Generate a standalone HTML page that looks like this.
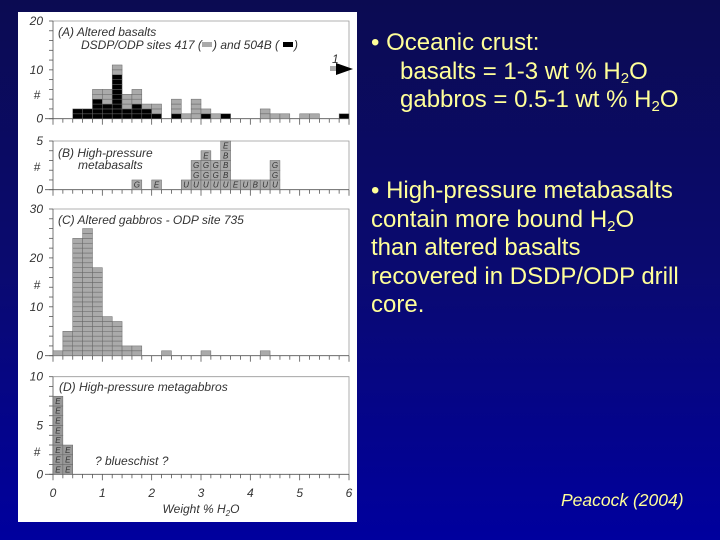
<!DOCTYPE html>
<html><head><meta charset="utf-8"><style>
html,body{margin:0;padding:0}
body{width:720px;height:540px;overflow:hidden;background:linear-gradient(180deg,#0b0b52 0%,#0a0a70 50%,#00009e 100%);position:relative;font-family:"Liberation Sans",sans-serif}
.t{position:absolute;color:#ffff99;font-size:24px;line-height:28.5px;white-space:nowrap}
sub{font-size:15px;vertical-align:-4px;line-height:0}
</style></head><body>
<svg id="fig" width="720" height="540" style="position:absolute;left:0;top:0" font-family="Liberation Sans, sans-serif">
<rect x="18" y="12" width="339" height="510" fill="#fff"/>
</svg>
<div class="t" style="left:371px;top:29px">• Oceanic crust:<br><span style="margin-left:29px">basalts = 1-3 wt % H<sub>2</sub>O</span><br><span style="margin-left:29px">gabbros = 0.5-1 wt % H<sub>2</sub>O</span></div>
<div class="t" style="left:371px;top:177px">• High-pressure metabasalts<br>contain more bound H<sub>2</sub>O<br>than altered basalts<br>recovered in DSDP/ODP drill<br>core.</div>
<div class="t" style="left:561px;top:486px;font-size:17.5px;font-style:italic">Peacock (2004)</div>
<script>
const aBlack=[0,0,2,2,4,3,9,2,3,2,1,0,1,0,0,1,0,1,0,0,0,0,0,0,0,0,0,0,0,1];
const aGray=[0,0,0,0,2,3,2,3,3,1,2,0,3,1,4,1,1,0,0,0,0,2,1,1,0,1,1,0,0,0];
const bLetters=["","","","","","","","","G","","E","","","U","UGG","UGGE","UGG","UBBBE","E","U","B","U","UGG","","","","","","",""];
const cCounts=[1,5,24,26,18,8,7,2,2,0,0,1,0,0,0,1,0,0,0,0,0,1,0,0,0,0,0,0,0,0];
const dLetters=["EEEEEEEE","EEE"];
const xTicks=[0,1,2,3,4,5,6];
const svg=document.getElementById('fig');
const NS='http://www.w3.org/2000/svg';
const X0=53,X1=349,BW=0.2;
const xs=v=>X0+(X1-X0)*v/6;
function mk(tag,at,parent){const e=document.createElementNS(NS,tag);for(const k in at)e.setAttribute(k,at[k]);(parent||svg).appendChild(e);return e;}
const panels=[
 {name:'a',top:21,zero:118.7,max:20,labels:[0,10,20],minor:2,hy:99},
 {name:'b',top:141,zero:189.7,max:5,labels:[0,5],minor:1,hy:171},
 {name:'c',top:209,zero:355.7,max:30,labels:[0,10,20,30],minor:2,hy:289},
 {name:'d',top:376.7,zero:474.3,max:10,labels:[0,5,10],minor:1,hy:456}];
panels.forEach(p=>{
 const ys=v=>p.zero-(p.zero-p.top)*v/p.max;p.ys=ys;
 let e=mk('path',{d:`M${X0} ${p.top}H${X1}V${p.zero}`,fill:'none',stroke:'#999','stroke-width':0.8});
 
 e=mk('line',{x1:X0,x2:X0,y1:p.top,y2:p.zero,stroke:'#555','stroke-width':0.8});
 
 e=mk('line',{x1:X0-8,x2:X1,y1:p.zero,y2:p.zero,stroke:'#555','stroke-width':0.8});
 
 for(let v=0;v<=p.max;v+=p.minor){const t=mk('line',{x1:X0-4,x2:X0,y1:ys(v),y2:ys(v),stroke:'#555','stroke-width':0.8});}
 p.labels.forEach(v=>{const t=mk('text',{x:X0-10,y:ys(v)+4,'text-anchor':'end','font-size':12,'font-style':'italic',fill:'#333'});t.textContent=v;});
 const h=mk('text',{x:37,y:p.hy,'text-anchor':'middle','font-size':12,'font-style':'italic',fill:'#333'});h.textContent='#';
 
 for(let i=0;i<=30;i++){const t=mk('line',{x1:xs(i*BW),x2:xs(i*BW),y1:p.zero,y2:p.zero+(i%5==0?6:4),stroke:'#555','stroke-width':0.8});}
});
function cell(p,i,k,fill,letter,nm){
 const x=xs(i*BW),w=xs(BW)-X0,y=p.ys(k+1),hh=p.ys(k)-p.ys(k+1);
 const r=mk('rect',{x:x,y:y,width:w,height:hh,fill:fill,stroke:'#666','stroke-width':0.5});
 
 if(letter){const t=mk('text',{x:x+w/2,y:y+hh-2,'text-anchor':'middle','font-size':Math.min(hh-1,8),'font-style':'italic',fill:'#333'});t.textContent=letter;}
}
const [A,B,C,D]=panels;
aBlack.forEach((n,i)=>{for(let k=0;k<n;k++)cell(A,i,k,'#000','','bar-504b');for(let k=0;k<aGray[i];k++)cell(A,i,n+k,'#aaa','','bar-417');});
bLetters.forEach((s,i)=>{[...s].forEach((c,k)=>cell(B,i,k,'#aaa',c,'bar-metabasalt'));});
cCounts.forEach((n,i)=>{for(let k=0;k<n;k++)cell(C,i,k,'#aaa','','bar-gabbro');});
dLetters.forEach((s,i)=>{[...s].forEach((c,k)=>cell(D,i,k,'#999',c,'bar-metagabbro'));});
function txt(x,y,s,sz,nm,anchor){const t=mk('text',{x:x,y:y,'font-size':sz,'font-style':'italic',fill:'#333','text-anchor':anchor||'start'});t.textContent=s;return t;}
txt(58,36,'(A) Altered basalts',12,'panel-a-title');
txt(81,49,'DSDP/ODP sites 417 (',12,'panel-a-subtitle');
txt(213,49,') and 504B (',12,'panel-a-subtitle-2');
txt(294,49,')',12,'panel-a-subtitle-3');
let e=mk('rect',{x:202,y:42,width:10,height:5,fill:'#aaa'});
e=mk('rect',{x:283,y:42,width:10,height:5,fill:'#000'});
e=mk('rect',{x:330,y:66,width:10,height:5,fill:'#aaa'});
e=mk('path',{d:'M336 63L353 69L336 75Z',fill:'#000'});
txt(332,63,'1',12,'overflow-count');
txt(58,157,'(B) High-pressure',12,'panel-b-title');
txt(78,169,'metabasalts',12,'panel-b-subtitle');
txt(58,224,'(C) Altered gabbros - ODP site 735',12,'panel-c-title');
txt(59,391,'(D) High-pressure metagabbros',12,'panel-d-title');
txt(95,465,'? blueschist ?',12,'blueschist-note');
xTicks.forEach(v=>txt(xs(v),497,v,12,'x-tick-label','middle'));
const xt=txt(xs(3),513,'Weight % H',12,'x-axis-title','middle');
const ts=document.createElementNS(NS,'tspan');ts.setAttribute('font-size',8);ts.setAttribute('dy',3);ts.textContent='2';xt.appendChild(ts);
const ts2=document.createElementNS(NS,'tspan');ts2.setAttribute('dy',-3);ts2.textContent='O';xt.appendChild(ts2);
</script>
</body></html>
